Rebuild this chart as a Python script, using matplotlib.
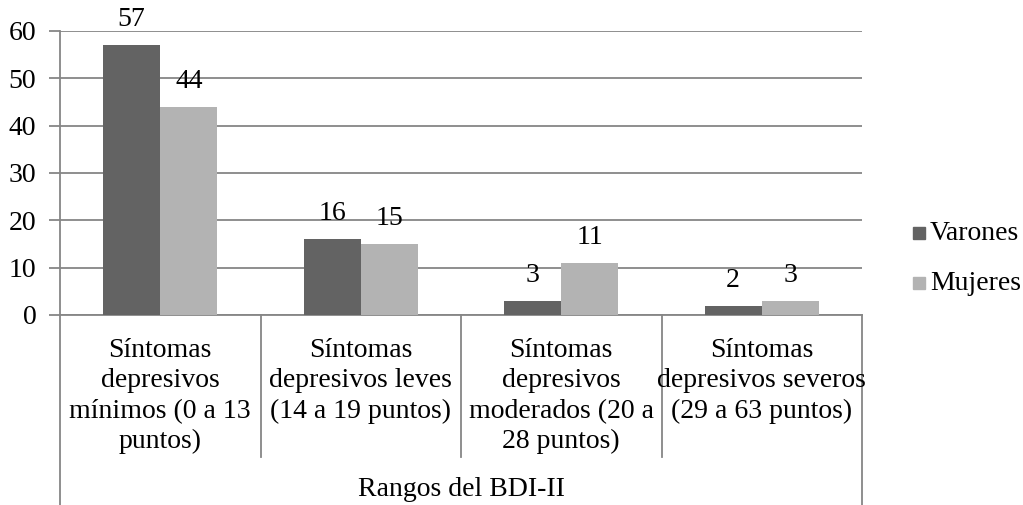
import matplotlib
matplotlib.use("Agg")
import matplotlib.pyplot as plt
import numpy as np
from matplotlib.lines import Line2D

plt.rcParams['font.family'] = ['Liberation Serif', 'DejaVu Serif']

categories = ["Síntomas\ndepresivos\nmínimos (0 a 13\npuntos)",
              "Síntomas\ndepresivos leves\n(14 a 19 puntos)",
              "Síntomas\ndepresivos\nmoderados (20 a\n28 puntos)",
              "Síntomas\ndepresivos severos\n(29 a 63 puntos)"]
series_names = ["Varones", "Mujeres"]
varones = [57, 16, 3, 2]
mujeres = [44, 15, 11, 3]
group_label = "Rangos del BDI-II"
yticks = [0, 10, 20, 30, 40, 50, 60]

W, H = 1023, 505
fig = plt.figure(figsize=(W/100, H/100), dpi=100)
x0, x1 = 60, 862
y0, y1 = 315, 31
ax = fig.add_axes([x0/W, 1 - y0/H, (x1-x0)/W, (y0-y1)/H])

c1, c2 = '#636363', '#b3b3b3'
grid = '#868686'
n = len(categories)
x = np.arange(n)
bw = 0.285
ax.bar(x - bw/2, varones, bw, color=c1, zorder=3, label=series_names[0])
ax.bar(x + bw/2, mujeres, bw, color=c2, zorder=3, label=series_names[1])
fs = 20
for xi, v in zip(x - bw/2, varones):
    ax.text(xi, v + 4.0, str(v), ha='center', va='baseline', fontsize=fs)
for xi, v in zip(x + bw/2, mujeres):
    ax.text(xi, v + 4.0, str(v), ha='center', va='baseline', fontsize=fs)

ax.set_xlim(-0.5, n - 0.5)
ax.set_ylim(0, 60)
ax.set_yticks(yticks)
ax.set_yticklabels([str(t) for t in yticks], fontsize=fs)
ax.tick_params(axis='y', length=8, color=grid, width=1.3, pad=9)
ax.yaxis.grid(True, color=grid, lw=1.3, zorder=0)
ax.set_xticks([])
for s in ['top', 'right']:
    ax.spines[s].set_visible(False)
ax.spines['left'].set_color(grid)
ax.spines['left'].set_linewidth(1.3)
ax.spines['bottom'].set_color(grid)
ax.spines['bottom'].set_linewidth(1.3)

# category labels and separators (figure pixel coords)
cw = (x1 - x0) / n
for i, lab in enumerate(categories):
    cx = x0 + cw * (i + 0.5)
    fig.text(cx / W, 1 - 338 / H, lab, ha='center', va='top', fontsize=fs,
             linespacing=1.28)
for i in range(1, n):
    xx = x0 + cw * i
    fig.add_artist(Line2D([xx/W, xx/W], [1 - y0/H, 1 - 457/H], color=grid, lw=1.3))
for xx in [x0, x1]:
    fig.add_artist(Line2D([xx/W, xx/W], [1 - y0/H, 0], color=grid, lw=1.3))
fig.text((x0 + x1) / 2 / W, 1 - 490 / H, group_label, ha='center', va='center', fontsize=fs)

# legend
for j, (name, c) in enumerate(zip(series_names, [c1, c2])):
    yy = 233 + 50 * j
    fig.patches.append(plt.Rectangle((913/W, 1 - (yy + 6)/H), 12/W, 12/H,
                                     color=c, transform=fig.transFigure))
    fig.text(930/W, 1 - yy/H, name, ha='left', va='center', fontsize=fs)

fig.savefig("out.png", dpi=100)
